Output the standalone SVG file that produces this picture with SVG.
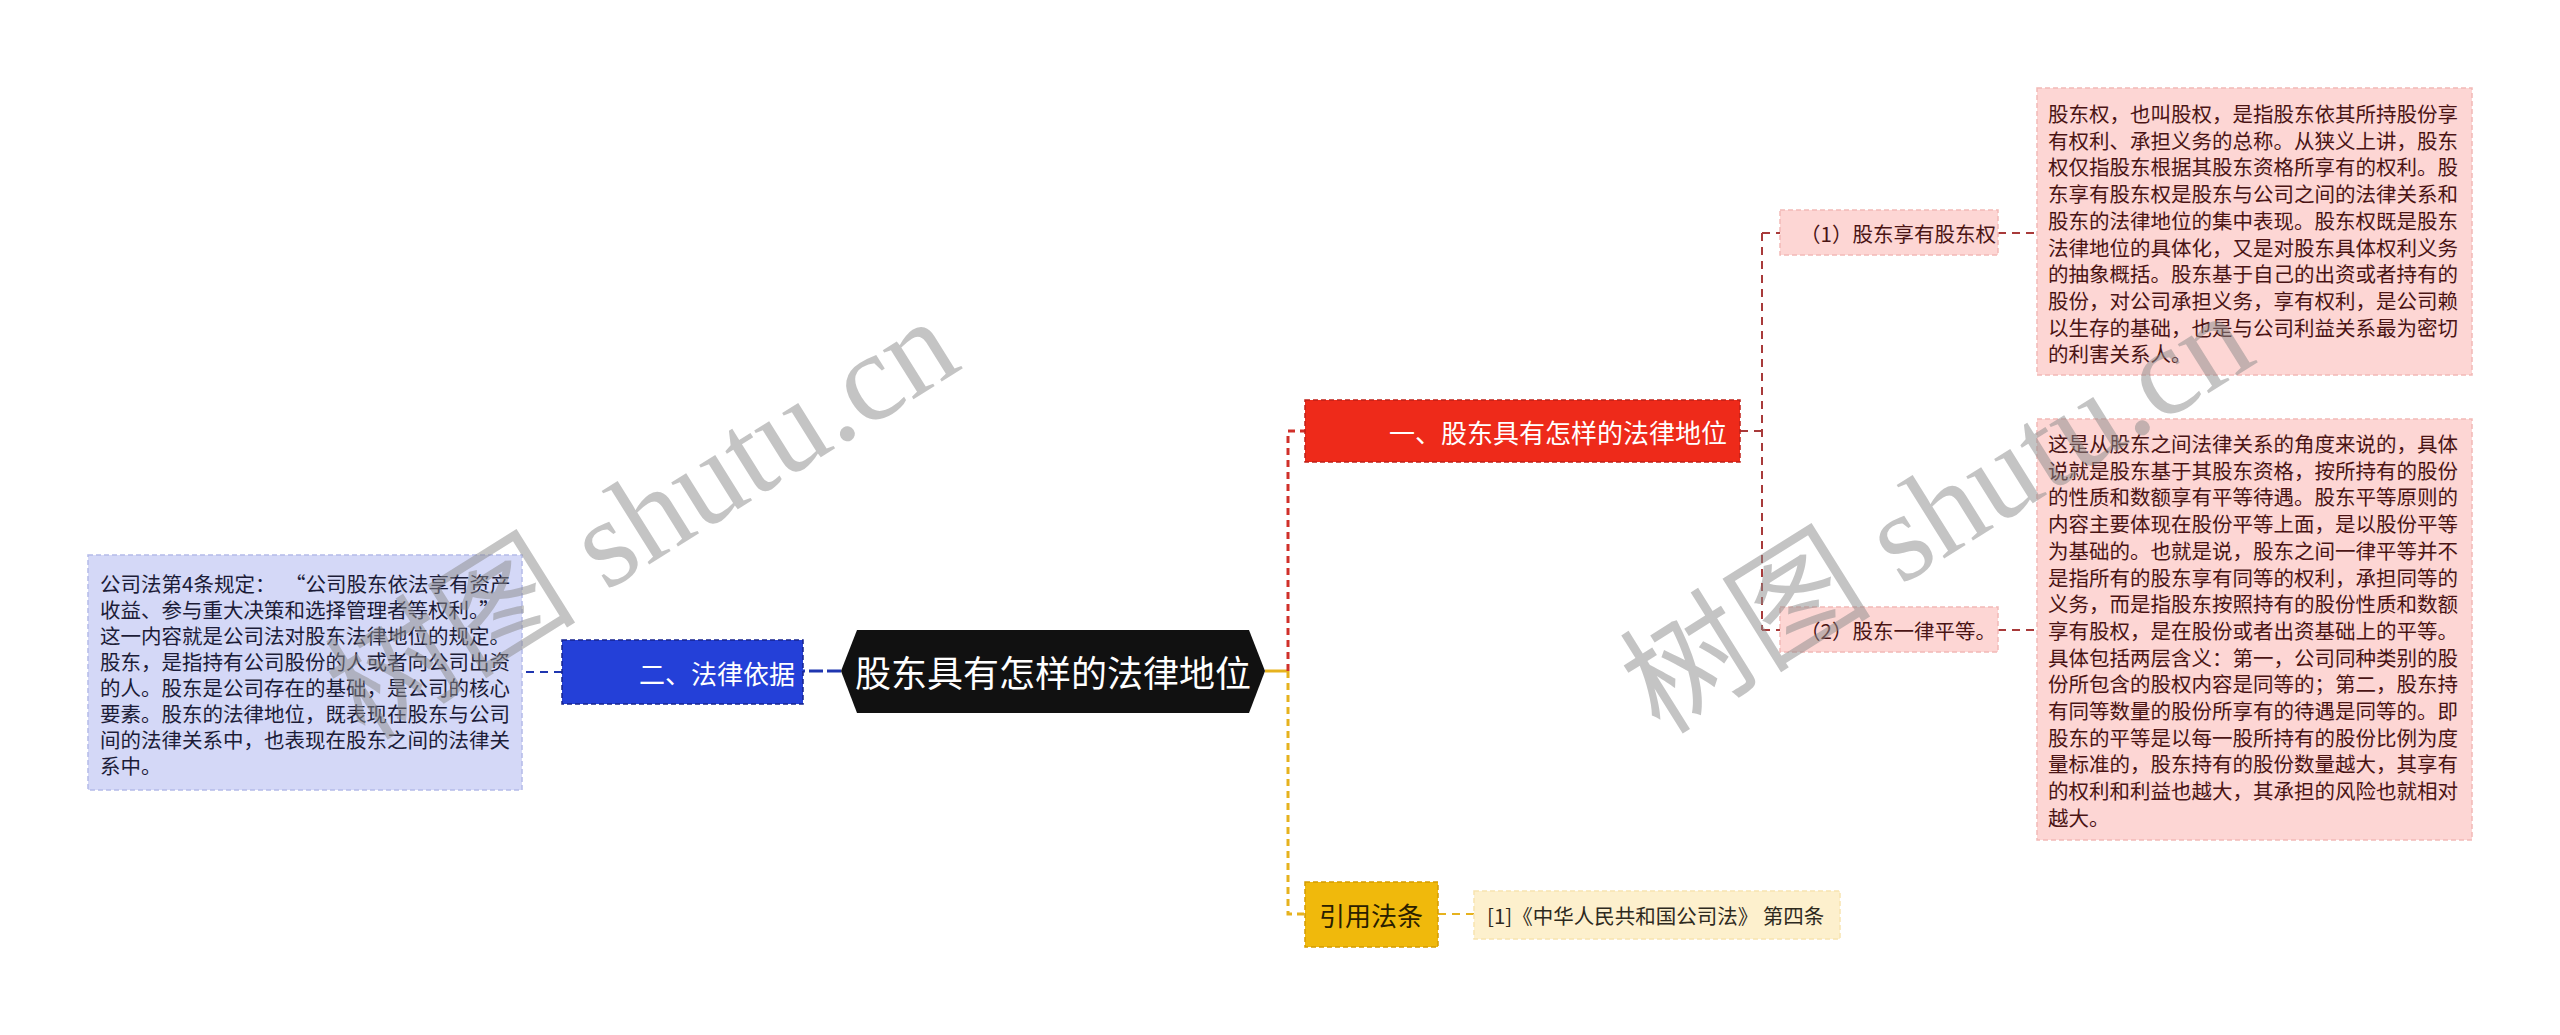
<svg xmlns="http://www.w3.org/2000/svg" width="2560" height="1035" viewBox="0 0 2560 1035">
<style>
  text { font-family: "Noto Sans CJK SC", "Noto Sans", sans-serif; }
  .c-main { fill: none; stroke-width: 3; }
  .c-sub { fill: none; stroke-width: 2; stroke-dasharray: 8 6; }
  .red { stroke: #d0302a; stroke-dasharray: 7 5; }
  .yel { stroke: #e6b21e; stroke-dasharray: 7 5; }
  .blu { stroke: #1f36b0; }
  .dred { stroke: #a83a3a; }
  .lbl { font-size: 20.5px; dominant-baseline: central; }
  .pink-box { fill: #fdd6d4; stroke: #f2b9b6; stroke-width: 1.5; stroke-dasharray: 5 3; }
  .pink-txt { fill: #4a1414; }
  .wm { font-family: "Liberation Serif", "Noto Sans CJK SC", serif; font-size: 126px; fill: #8a8a8a; fill-opacity: 0.5; }
</style>

<g id="connectors">
  <line x1="1265" y1="671" x2="1288" y2="671" stroke="#e6b21e" stroke-width="3"/>
  <path class="c-main red" d="M1288 671 V431 H1305"/>
  <path class="c-main yel" d="M1288 671 V914 H1305"/>
  <path class="c-main blu" stroke-dasharray="14 4" d="M841 671 H803"/>
  <path class="c-sub blu" d="M562 672 H522"/>
  <path class="c-sub dred" d="M1740 431 H1762"/>
  <path class="c-sub dred" d="M1762 233 V630"/>
  <path class="c-sub dred" d="M1762 233 H1780 M1762 630 H1780"/>
  <path class="c-sub dred" d="M1998 233 H2037 M1998 630 H2037"/>
  <path class="c-sub" stroke="#e6b21e" d="M1438 914 H1474"/>
</g>

<g id="root">
  <polygon points="841,671 857,630 1249,630 1265,671 1249,713 857,713" fill="#111111"/>
  <text x="1053" y="671" font-size="36" fill="#ffffff" text-anchor="middle" dominant-baseline="central">股东具有怎样的法律地位</text>
</g>

<g id="n-red">
  <rect x="1305" y="400" width="435" height="62" fill="#ee2a1a" stroke="#c02018" stroke-width="1.5" stroke-dasharray="5 3"/>
  <text x="1727" y="431" font-size="26" fill="#ffffff" text-anchor="end" dominant-baseline="central">一、股东具有怎样的法律地位</text>
</g>

<g id="n-blue">
  <rect x="562" y="640" width="241" height="64" fill="#2440d8" stroke="#16238f" stroke-width="1.5" stroke-dasharray="5 3"/>
  <text x="795" y="672" font-size="26" fill="#ffffff" text-anchor="end" dominant-baseline="central">二、法律依据</text>
</g>

<g id="n-yellow">
  <rect x="1305" y="882" width="133" height="65" fill="#f0b90c" stroke="#d49c00" stroke-width="1.5" stroke-dasharray="5 3"/>
  <text x="1371" y="914" font-size="26" fill="#2a2000" text-anchor="middle" dominant-baseline="central">引用法条</text>
</g>

<g id="n-cite">
  <rect x="1474" y="891" width="366" height="48" fill="#fdf0cd" stroke="#f7e3b0" stroke-width="1.5" stroke-dasharray="5 3"/>
  <text x="1487" y="915" class="lbl" fill="#2e2a1e">[1]《中华人民共和国公司法》 第四条</text>
</g>

<g id="n-left">
  <rect x="88" y="555" width="434" height="235" fill="#d4d8f7" stroke="#b4bbe9" stroke-width="1.5" stroke-dasharray="5 3"/>
  <text class="lbl" fill="#1c1c38">
    <tspan x="100" y="583">公司法第4条规定：</tspan><tspan x="285" y="583">“公司股东依法享有资产</tspan>
    <tspan x="100" y="609">收益、参与重大决策和选择管理者等权利。”</tspan>
    <tspan x="100" y="635">这一内容就是公司法对股东法律地位的规定。</tspan>
    <tspan x="100" y="661">股东，是指持有公司股份的人或者向公司出资</tspan>
    <tspan x="100" y="687">的人。股东是公司存在的基础，是公司的核心</tspan>
    <tspan x="100" y="713">要素。股东的法律地位，既表现在股东与公司</tspan>
    <tspan x="100" y="739">间的法律关系中，也表现在股东之间的法律关</tspan>
    <tspan x="100" y="765">系中。</tspan>
  </text>
</g>

<g id="n-sub1">
  <rect x="1780" y="210" width="218" height="45" class="pink-box"/>
  <text x="1800" y="233" class="lbl pink-txt">（1）股东享有股东权</text>
</g>

<g id="n-sub2">
  <rect x="1780" y="607" width="218" height="45" class="pink-box"/>
  <text x="1800" y="630" class="lbl pink-txt">（2）股东一律平等。</text>
</g>

<g id="n-text1">
  <rect x="2037" y="88" width="435" height="287" class="pink-box"/>
  <text class="lbl pink-txt">
    <tspan x="2048" y="113">股东权，也叫股权，是指股东依其所持股份享</tspan>
    <tspan x="2048" y="139.7">有权利、承担义务的总称。从狭义上讲，股东</tspan>
    <tspan x="2048" y="166.4">权仅指股东根据其股东资格所享有的权利。股</tspan>
    <tspan x="2048" y="193.1">东享有股东权是股东与公司之间的法律关系和</tspan>
    <tspan x="2048" y="219.8">股东的法律地位的集中表现。股东权既是股东</tspan>
    <tspan x="2048" y="246.5">法律地位的具体化，又是对股东具体权利义务</tspan>
    <tspan x="2048" y="273.2">的抽象概括。股东基于自己的出资或者持有的</tspan>
    <tspan x="2048" y="299.9">股份，对公司承担义务，享有权利，是公司赖</tspan>
    <tspan x="2048" y="326.6">以生存的基础，也是与公司利益关系最为密切</tspan>
    <tspan x="2048" y="353.3">的利害关系人。</tspan>
  </text>
</g>

<g id="n-text2">
  <rect x="2037" y="419" width="435" height="421" class="pink-box"/>
  <text class="lbl pink-txt">
    <tspan x="2048" y="443">这是从股东之间法律关系的角度来说的，具体</tspan>
    <tspan x="2048" y="469.7">说就是股东基于其股东资格，按所持有的股份</tspan>
    <tspan x="2048" y="496.4">的性质和数额享有平等待遇。股东平等原则的</tspan>
    <tspan x="2048" y="523.1">内容主要体现在股份平等上面，是以股份平等</tspan>
    <tspan x="2048" y="549.8">为基础的。也就是说，股东之间一律平等并不</tspan>
    <tspan x="2048" y="576.5">是指所有的股东享有同等的权利，承担同等的</tspan>
    <tspan x="2048" y="603.2">义务，而是指股东按照持有的股份性质和数额</tspan>
    <tspan x="2048" y="629.9">享有股权，是在股份或者出资基础上的平等。</tspan>
    <tspan x="2048" y="656.6">具体包括两层含义：第一，公司同种类别的股</tspan>
    <tspan x="2048" y="683.3">份所包含的股权内容是同等的；第二，股东持</tspan>
    <tspan x="2048" y="710">有同等数量的股份所享有的待遇是同等的。即</tspan>
    <tspan x="2048" y="736.7">股东的平等是以每一股所持有的股份比例为度</tspan>
    <tspan x="2048" y="763.4">量标准的，股东持有的股份数量越大，其享有</tspan>
    <tspan x="2048" y="790.1">的权利和利益也越大，其承担的风险也就相对</tspan>
    <tspan x="2048" y="816.8">越大。</tspan>
  </text>
</g>

<g id="watermarks">
  <text class="wm" transform="translate(365,742) rotate(-32)">树图 shutu.cn</text>
  <text class="wm" transform="translate(1660,736) rotate(-32)">树图 shutu.cn</text>
</g>
</svg>
